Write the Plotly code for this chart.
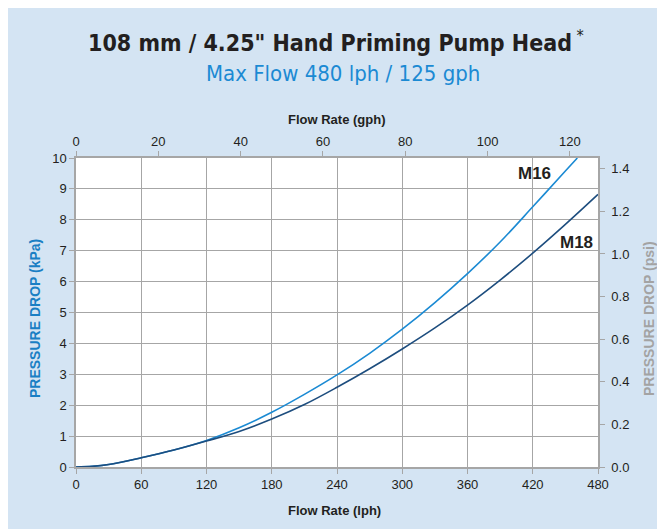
import plotly.graph_objects as go

# ---- data ----
m16_lph = [0, 15, 30, 60, 90, 120, 150, 180, 210, 240, 270, 300, 330, 360, 390, 420, 450, 461]
m16_kpa = [0, 0.02, 0.08, 0.30, 0.55, 0.86, 1.27, 1.77, 2.35, 2.98, 3.68, 4.46, 5.32, 6.26, 7.28, 8.42, 9.58, 10.0]
m18_lph = [0, 15, 30, 60, 90, 120, 150, 180, 210, 240, 270, 300, 330, 360, 390, 420, 450, 480]
m18_kpa = [0, 0.02, 0.08, 0.30, 0.55, 0.84, 1.15, 1.55, 2.02, 2.58, 3.18, 3.82, 4.50, 5.24, 6.05, 6.92, 7.85, 8.82]

lph_ticks = [0, 60, 120, 180, 240, 300, 360, 420, 480]
gph_ticks = [0, 20, 40, 60, 80, 100, 120]
kpa_ticks = list(range(0, 11))
psi_ticks = [0.0, 0.2, 0.4, 0.6, 0.8, 1.0, 1.2, 1.4]

LPH_PER_GPH = 3.785
PSI_PER_KPA = 0.145038

BG = "#d4e4f3"
GRID = "#a6a6a6"
TXT = "#231f20"
C16 = "#1b8ad3"
C18 = "#1d4d7e"
FONT = "Liberation Sans, Arial, sans-serif"
COND = "DejaVu Sans Condensed, Liberation Sans Narrow, Arial Narrow, sans-serif"

# plot area in figure pixels
L, R, T, B = 68, 75, 150, 70
W, H = 665, 529
PW, PH = W - L - R, H - T - B


def px(x):
    return (x - L) / PW


def py(y):
    return (H - B - y) / PH


fig = go.Figure()
fig.add_trace(go.Scatter(x=m16_lph, y=m16_kpa, mode="lines", line=dict(color=C16, width=1.6),
                         showlegend=False, line_shape="spline"))
fig.add_trace(go.Scatter(x=m18_lph, y=m18_kpa, mode="lines", line=dict(color=C18, width=1.6),
                         showlegend=False, line_shape="spline"))
# invisible traces to activate secondary axes
fig.add_trace(go.Scatter(x=[0, 480 / LPH_PER_GPH], y=[0, 0], xaxis="x2", yaxis="y",
                         mode="lines", line=dict(width=0), hoverinfo="skip", showlegend=False))
fig.add_trace(go.Scatter(x=[0, 480], y=[0, 10 * PSI_PER_KPA], xaxis="x", yaxis="y2",
                         mode="lines", line=dict(width=0), hoverinfo="skip", showlegend=False))

tickfont = dict(family=FONT, size=13, color=TXT)
fig.update_layout(
    width=W, height=H,
    margin=dict(l=L, r=R, t=T, b=B),
    paper_bgcolor=BG, plot_bgcolor="white",
    xaxis=dict(range=[0, 480], tickvals=lph_ticks, showgrid=True, gridcolor=GRID, gridwidth=1.2,
               showline=True, linecolor=GRID, linewidth=1.5, ticks="outside", ticklen=5,
               tickcolor=GRID, tickfont=tickfont, zeroline=False),
    xaxis2=dict(range=[0, 480 / LPH_PER_GPH], tickvals=gph_ticks, overlaying="x", side="top",
                showgrid=False, showline=True, linecolor=GRID, linewidth=1.5, ticks="outside",
                ticklen=5, tickcolor=GRID, tickfont=tickfont, zeroline=False),
    yaxis=dict(range=[0, 10], tickvals=kpa_ticks, showgrid=True, gridcolor=GRID, gridwidth=1.2,
               showline=True, linecolor=GRID, linewidth=1.5, ticks="outside", ticklen=5,
               tickcolor=GRID, tickfont=tickfont, zeroline=False),
    yaxis2=dict(range=[0, 10 * PSI_PER_KPA], tickvals=psi_ticks, tickformat=".1f", overlaying="y",
                side="right", showgrid=False, showline=True, linecolor=GRID, linewidth=1.5,
                ticks="outside", ticklen=5, tickcolor=GRID, tickfont=tickfont, zeroline=False,
                ticklabelstandoff=4),
)

ann = []
ann.append(dict(text="<b>108 mm / 4.25\" Hand Priming Pump Head</b><sup> *</sup>", xref="paper", yref="paper",
                x=px(328), y=py(33), showarrow=False, xanchor="center", yanchor="middle",
                font=dict(family=COND, size=23, color=TXT)))
ann.append(dict(text="Max Flow 480 lph / 125 gph", xref="paper", yref="paper",
                x=px(335), y=py(66), showarrow=False, xanchor="center", yanchor="middle",
                font=dict(family=COND, size=22, color=C16)))
ann.append(dict(text="<b>Flow Rate (gph)</b>", xref="paper", yref="paper",
                x=px(329), y=py(111), showarrow=False, xanchor="center", yanchor="middle",
                font=dict(family=FONT, size=13, color=TXT)))
ann.append(dict(text="<b>Flow Rate (lph)</b>", xref="paper", yref="paper",
                x=px(326), y=py(502), showarrow=False, xanchor="center", yanchor="middle",
                font=dict(family=FONT, size=13, color=TXT)))
ann.append(dict(text="<b>PRESSURE DROP (kPa)</b>", xref="paper", yref="paper", textangle=-90,
                x=px(27), y=py(311), showarrow=False, xanchor="center", yanchor="middle",
                font=dict(family=FONT, size=14, color="#1a7fc4")))
ann.append(dict(text="<b>PRESSURE DROP (psi)</b>", xref="paper", yref="paper", textangle=-90,
                x=px(641), y=py(311), showarrow=False, xanchor="center", yanchor="middle",
                font=dict(family=FONT, size=14, color="#a3a3a3")))
ann.append(dict(text="<b>M16</b>", x=422, y=9.5, xref="x", yref="y", showarrow=False,
                font=dict(family=FONT, size=17, color=TXT)))
ann.append(dict(text="<b>M18</b>", x=460, y=7.27, xref="x", yref="y", showarrow=False,
                font=dict(family=FONT, size=17, color=TXT)))
fig.update_layout(annotations=ann)

fig.write_html("out.html")
